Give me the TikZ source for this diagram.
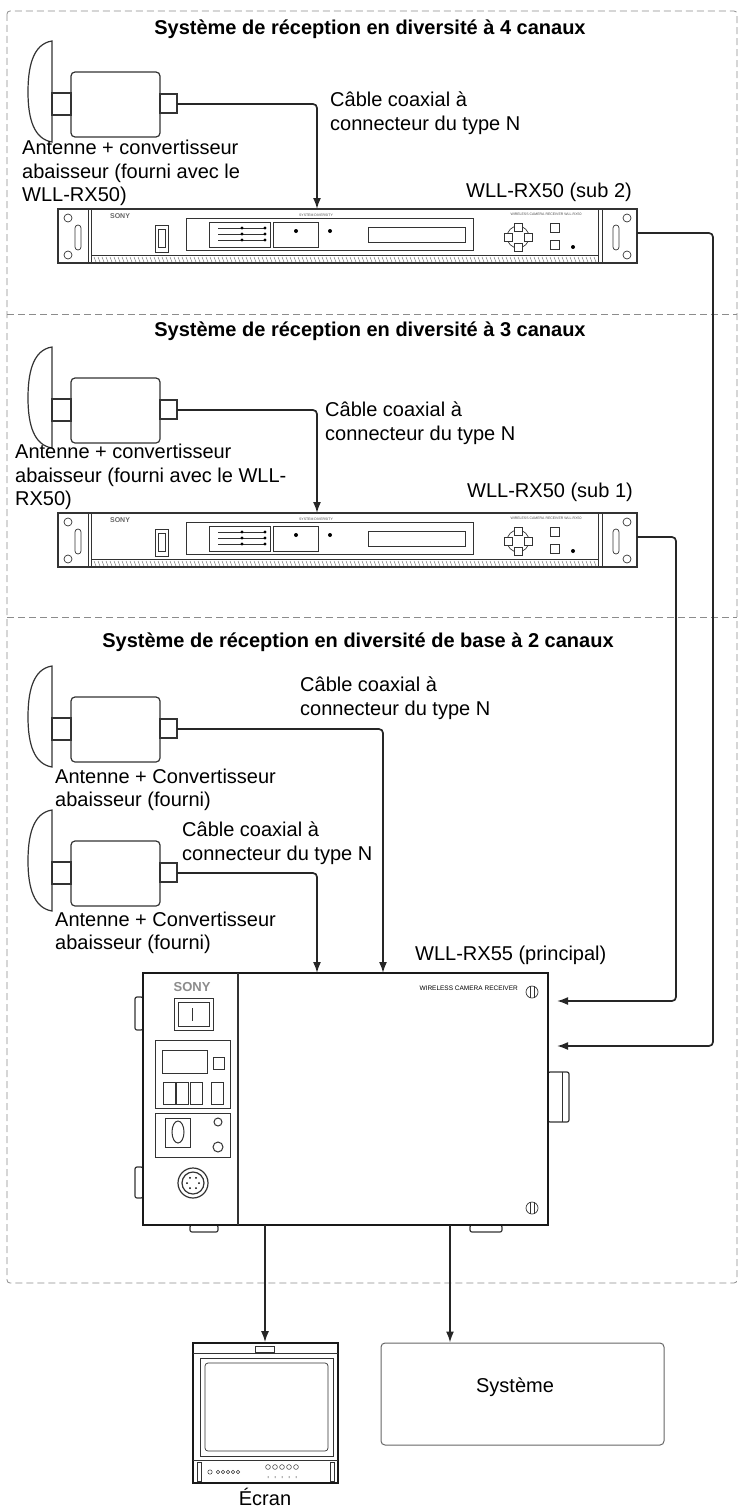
\documentclass[tikz,border=0pt]{standalone}
\usepackage{fontspec}
\setmainfont{Liberation Sans}
\usetikzlibrary{arrows.meta,positioning}
\begin{document}
\begin{tikzpicture}
	[x=1pt,y=-1pt,
	zone/.style={draw=black!45,dashed,dash pattern=on 7pt off 4pt,line width=.8pt},
	cable/.style={draw=black!85,line width=1.7pt,rounded corners=4pt},
	arr/.style={-{Latex[length=11pt,width=8pt]}},
	lbl/.style={font=\fontsize{20}{23.5}\selectfont,align=left,anchor=west,inner sep=0pt},
	ttl/.style={font=\fontsize{20}{22}\selectfont\bfseries,inner sep=0pt},
	part/.style={draw=black!80,line width=.7pt},
	tiny/.style={font=\fontsize{3.5}{4}\selectfont,text=black!70,inner sep=0pt},
	antenna/.pic={
		\draw[part,line width=1.2pt,fill=white] (0,-63) .. controls (-20,-60) and (-24,-35) .. (-24,-12)
			.. controls (-24,15) and (-18,35) .. (0,38) -- cycle;
		\draw[part,line width=1.2pt] (0,-11) rectangle (19,11);
		\draw[part,line width=1.2pt,rounded corners=4pt] (19,-32) rectangle (108,33);
		\draw[part,line width=1.2pt] (108,-10) rectangle (125,9);
		\coordinate (-port) at (125,0);
	},
	rackunit/.pic={
		\draw[part,line width=1.4pt] (0,0) rectangle (579,54);
		\draw[part] (30,0) -- (30,54) (33,0) -- (33,54) (540,0) -- (540,54) (544,0) -- (544,54);
		\foreach \ex/\sx in {10/17,569/555}{
			\draw[part] (\ex,9) circle (4) (\ex,46) circle (4);
			\draw[part,rounded corners=3pt] (\sx,16) rectangle (\sx+6,41);
		}
		\draw[part] (33,46) -- (540,46);
		\foreach \v in {36,40,...,536} \draw[black!60,line width=.4pt] (\v,48) -- (\v+2,53);
		\node[font=\fontsize{7}{7}\selectfont\bfseries,text=black!60] at (62,7) {SONY};
		\draw[part] (97,16) rectangle (110,43) (100,20) rectangle (107,38);
		\draw[part] (128,9) rectangle (415,41);
		\node[tiny] at (258,6) {SYSTEM DIVERSITY};
		\draw[part] (151,13) rectangle (212,38);
		\foreach \g in {19,25,31}{
			\draw[part,line width=.4pt] (160,\g) -- (207,\g);
			\fill (184,\g) circle (1.6) (207,\g) circle (1.6);
		}
		\draw[part] (215,13) rectangle (260,38);
		\fill (238,22) circle (2) (272,22) circle (2);
		\draw[part,line width=1pt] (310,18) rectangle (407,33);
		\draw[part] (460,28) circle (11);
		\foreach \dx/\dy in {0/-10,0/10,-10/0,10/0}
			\draw[part,fill=white] (460+\dx-4,28+\dy-4) rectangle (460+\dx+4,28+\dy+4);
		\draw[part] (492,14) rectangle (501,23) (492,31) rectangle (501,40);
		\fill (515,38) circle (2);
		\node[tiny] at (488,5) {WIRELESS CAMERA RECEIVER WLL-RX50};
		\coordinate (-in) at (259,0);
		\coordinate (-port) at (579,24);
	}
	]
	\useasboundingbox (0,0) rectangle (740,1512);

	% zones
	\draw[zone,rounded corners=3pt] (7,11) rectangle (737,1283);
	\draw[zone] (7,314) -- (737,314);
	\draw[zone] (7,617) -- (737,617);
	\node[ttl] (t4) at (370,29) {Système de réception en diversité à 4 canaux};
	\node[ttl] (t3) at (370,331) {Système de réception en diversité à 3 canaux};
	\node[ttl] (t2) at (358,642) {Système de réception en diversité de base à 2 canaux};

	% antennas
	\pic (ant1) at (52,104) {antenna};
	\pic (ant2) at (52,410) {antenna};
	\pic (ant3) at (52,729) {antenna};
	\pic (ant4) at (52,873) {antenna};
	\node[lbl] (ant1-txt) at (22,173) {Antenne + convertisseur\\abaisseur (fourni avec le\\WLL-RX50)};
	\node[lbl] (ant2-txt) at (15,477) {Antenne + convertisseur\\abaisseur (fourni avec le WLL-\\RX50)};
	\node[lbl] (ant3-txt) at (55,790) {Antenne + Convertisseur\\abaisseur (fourni)};
	\node[lbl] (ant4-txt) at (55,933) {Antenne + Convertisseur\\abaisseur (fourni)};
	\node[lbl] (cab1-txt) at (330,113) {Câble coaxial à\\connecteur du type N};
	\node[lbl] (cab2-txt) at (325,423) {Câble coaxial à\\connecteur du type N};
	\node[lbl] (cab3-txt) at (300,698) {Câble coaxial à\\connecteur du type N};
	\node[lbl] (cab4-txt) at (182,843) {Câble coaxial à\\connecteur du type N};

	% rack receivers
	\pic (rx2) at (58,209) {rackunit};
	\pic (rx1) at (58,513) {rackunit};
	\node[lbl] (rx2-txt) at (466,192) {WLL-RX50 (sub 2)};
	\node[lbl] (rx1-txt) at (467,492) {WLL-RX50 (sub 1)};

	% main receiver
	\draw[part,line width=1.2pt,rounded corners=2pt] (135,997) rectangle (143,1030) (135,1167) rectangle (143,1198)
		(548,1072) rectangle (569,1122) (190,1225) rectangle (218,1232) (470,1225) rectangle (502,1232);
	\draw[part] (562,1072) -- (562,1122);
	\node[draw=black!90,line width=1.6pt,minimum width=405pt,minimum height=252pt,inner sep=0pt,fill=white]
		(main) at (345.5,1099) {};
	\draw[part,line width=1.4pt] (238,973) -- (238,1225);
	\node[font=\fontsize{13}{13}\selectfont\bfseries,text=black!45] (main-logo) at (192,987) {SONY};
	\draw[part] (174,998) rectangle (213,1030) (178,1002) rectangle (209,1026) (192,1008) -- (192,1021);
	\draw[part,line width=1pt] (155,1040) rectangle (230,1108) (155,1113) rectangle (230,1157);
	\draw[part] (162,1050) rectangle (207,1073) (213,1057) rectangle (224,1069);
	\foreach \bx in {163,176,190,211} \draw[part] (\bx,1082) rectangle (\bx+12,1104);
	\draw[part,line width=1pt] (178,1132) ellipse (6 and 11) (218,1122) circle (4) (218,1147) circle (5);
	\draw[part] (165,1118) rectangle (190,1147);
	\draw[part,line width=1.2pt] (193,1183) circle (15) (193,1183) circle (11);
	\foreach \p in {0,60,...,300} \fill (193,1183) ++(\p:6) circle (1);
	\draw[part] (532,992) circle (6) (532,1208) circle (6);
	\draw[part] (530,986) -- (530,998) (534,986) -- (534,998) (530,1202) -- (530,1214) (534,1202) -- (534,1214);
	\node[font=\fontsize{6.5}{7}\selectfont,anchor=east,inner sep=0pt] (main-brand) at (518,988) {WIRELESS CAMERA RECEIVER};
	\node[lbl] (main-txt) at (415,955) {WLL-RX55 (principal)};
	\coordinate (main-in3) at (383,973);
	\coordinate (main-in4) at (317,973);
	\coordinate (main-inb) at (557,1001);
	\coordinate (main-ina) at (557,1046);
	\coordinate (main-out1) at (265,1225);
	\coordinate (main-out2) at (450,1225);
	\coordinate (bend1) at (676,1001);
	\coordinate (bend2) at (713,1046);

	% monitor and system
	\node[draw=black!90,line width=1.6pt,minimum width=145pt,minimum height=140pt,inner sep=0pt]
		(mon) at (265.5,1413) {};
	\draw[part] (193,1353) -- (338,1353) (255,1346) rectangle (274,1352);
	\draw[part,line width=1pt] (200,1358) rectangle (333,1456);
	\draw[part,rounded corners=3pt] (205,1363) rectangle (328,1451);
	\draw[part] (193,1460) -- (338,1460) (197,1462) rectangle (201,1481) (330,1462) rectangle (334,1481);
	\draw[part,line width=.5pt] (210,1472) circle (2.2);
	\foreach \c in {0,...,4} \draw[part,line width=.5pt] (218+\c*5,1472) circle (1.8);
	\foreach \c in {0,...,4} \draw[part,line width=.5pt] (268+\c*7,1467) circle (2.4) (268+\c*7,1476) -- (268+\c*7,1478);
	\node[font=\fontsize{20}{20}\selectfont,inner sep=0pt] (mon-txt) at (265,1497) {Écran};
	\node[draw=black!60,line width=1pt,rounded corners=4pt,minimum width=283pt,minimum height=102pt] (sys) at (522.5,1394) {};
	\node[font=\fontsize{20}{20}\selectfont,inner sep=0pt] (sys-txt) at (515,1387) {Système};

	% cables
	\draw[cable,arr] (ant1-port) -| (rx2-in);
	\draw[cable,arr] (ant2-port) -| (rx1-in);
	\draw[cable,arr] (ant3-port) -| (main-in3);
	\draw[cable,arr] (ant4-port) -| (main-in4);
	\draw[cable,arr] (rx2-port) -| (bend2) -- (main-ina);
	\draw[cable,arr] (rx1-port) -| (bend1) -- (main-inb);
	\draw[cable,arr] (main-out1) -- (main-out1 |- mon.north);
	\draw[cable,arr] (main-out2) -- (main-out2 |- sys.north);
\end{tikzpicture}
\end{document}
